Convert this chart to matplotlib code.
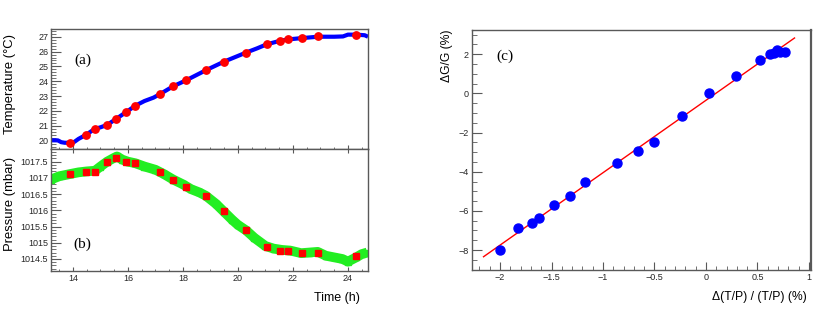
#!/usr/bin/env python3
"""Temperature / pressure time series and gain vs T/P correlation."""
import matplotlib
matplotlib.use("Agg")
import matplotlib.pyplot as plt
import numpy as np
from matplotlib.ticker import AutoMinorLocator, MultipleLocator

plt.rcParams["font.family"] = ["Liberation Sans", "DejaVu Sans"]

# continuous monitoring (a) temperature
temp_t = [13.2, 13.45, 13.57, 13.7, 13.93, 14.05, 14.2, 14.46, 14.79, 15.0, 15.24, 15.58,
          15.92, 16.27, 16.6, 16.93, 17.15, 17.64, 18.12, 18.83, 19.49, 20.28, 20.7,
          21.05, 21.54, 21.83, 22.34, 22.91, 23.5, 23.82, 24.0, 24.31, 24.61, 24.73]
temp_v = [20.03, 20.02, 19.9, 19.86, 19.86, 19.92, 20.12, 20.38, 20.79, 20.9, 21.06, 21.48,
          21.91, 22.36, 22.67, 22.9, 23.12, 23.66, 24.07, 24.74, 25.32, 25.92, 26.22,
          26.49, 26.73, 26.82, 26.91, 27.0, 27.0, 27.02, 27.14, 27.14, 27.1, 27.0]

# continuous monitoring (b) pressure
pres_t = [13.2, 13.5, 13.9, 14.2, 14.5, 14.8, 15.0, 15.24, 15.5, 15.6, 15.8, 16.0, 16.27,
          16.6, 17.0, 17.3, 17.64, 18.0, 18.3, 18.6, 18.83, 19.2, 19.5, 19.8, 20.0, 20.3,
          20.6, 21.0, 21.3, 21.6, 21.9, 22.3, 22.6, 22.9, 23.2, 23.5, 23.8, 24.0, 24.3,
          24.5, 24.7]
pres_v = [1016.95, 1017.05, 1017.12, 1017.17, 1017.2, 1017.22, 1017.35, 1017.5, 1017.62,
          1017.66, 1017.56, 1017.5, 1017.45, 1017.35, 1017.25, 1017.12, 1016.95, 1016.8,
          1016.65, 1016.55, 1016.45, 1016.2, 1015.95, 1015.7, 1015.55, 1015.38, 1015.15,
          1014.9, 1014.82, 1014.78, 1014.76, 1014.68, 1014.7, 1014.72, 1014.6, 1014.55,
          1014.5, 1014.42, 1014.55, 1014.65, 1014.7]

# gain measurement times
run_t = [13.90, 14.46, 14.79, 15.24, 15.58, 15.92, 16.27, 17.15, 17.64, 18.12, 18.83,
         19.49, 20.28, 21.05, 21.54, 21.83, 22.34, 22.91, 24.31]
run_temp = [19.85, 20.38, 20.79, 21.06, 21.48, 21.91, 22.36, 23.12, 23.66, 24.07, 24.74,
            25.32, 25.92, 26.49, 26.73, 26.82, 26.91, 27.02, 27.13]
run_pres = [1017.12, 1017.19, 1017.19, 1017.50, 1017.60, 1017.50, 1017.47, 1017.19,
            1016.95, 1016.73, 1016.45, 1015.98, 1015.38, 1014.86, 1014.74, 1014.76,
            1014.67, 1014.70, 1014.58]

# (c) correlation
dtp = [-2.0, -1.83, -1.69, -1.62, -1.48, -1.32, -1.17, -0.86, -0.66, -0.50, -0.23, 0.03,
       0.29, 0.52, 0.62, 0.66, 0.69, 0.72, 0.77]
dg = [-8.0, -6.89, -6.60, -6.36, -5.68, -5.25, -4.52, -3.56, -2.92, -2.46, -1.15, 0.0,
      0.89, 1.71, 2.0, 2.08, 2.22, 2.13, 2.13]
fit_slope = 3.7
fit_intercept = -0.35
fit_range = [-2.16, 0.86]

FRAME = "0.35"
TICKC = "0.15"


def style(ax, xlen=(3.0, 1.5), ylen=(7.0, 3.5)):
    for s in ax.spines.values():
        s.set_color(FRAME)
        s.set_linewidth(1.0)
    ax.tick_params(which="both", direction="in", colors=FRAME, labelcolor=TICKC,
                   labelsize=6.5, right=False, top=False)
    ax.tick_params(axis="x", which="major", length=xlen[0], pad=2)
    ax.tick_params(axis="x", which="minor", length=xlen[1])
    ax.tick_params(axis="y", which="major", length=ylen[0], pad=2)
    ax.tick_params(axis="y", which="minor", length=ylen[1])


fig = plt.figure(figsize=(8.3, 3.09), dpi=100)
W, H = 830.0, 309.0

ax_a = fig.add_axes([51 / W, 1 - 149 / H, 317 / W, 120 / H])
ax_b = fig.add_axes([51 / W, 1 - 271 / H, 317 / W, 122 / H], sharex=ax_a)
ax_c = fig.add_axes([471.7 / W, 1 - 270 / H, 339 / W, 240 / H])

# (a)
ax_a.plot(temp_t, temp_v, color="blue", lw=3.0, solid_capstyle="butt", zorder=2)
ax_a.plot(run_t, run_temp, "o", color="red", ms=5.3, mec="red", zorder=3)
ax_a.set_xlim(13.2, 24.73)
ax_a.set_ylim(19.44, 27.52)
ax_a.xaxis.set_major_locator(MultipleLocator(2))
ax_a.xaxis.set_minor_locator(AutoMinorLocator(4))
ax_a.yaxis.set_major_locator(MultipleLocator(1))
ax_a.yaxis.set_minor_locator(AutoMinorLocator(5))
style(ax_a)
ax_a.tick_params(axis="x", labelbottom=False)
ax_a.text(0.099, 0.74, "(a)", transform=ax_a.transAxes, family="Liberation Serif",
          fontsize=11, ha="center", va="center")

# (b)
ax_b.plot(pres_t, pres_v, color="#22ee22", lw=7.0, marker="s", ms=4.5, mec="#22ee22",
          solid_capstyle="butt", zorder=2)
ax_b.plot(run_t, run_pres, "s", color="red", ms=5.0, mec="red", zorder=3)
ax_b.set_ylim(1014.13, 1017.89)
ax_b.yaxis.set_major_locator(MultipleLocator(0.5))
ax_b.yaxis.set_minor_locator(AutoMinorLocator(5))
ax_b.yaxis.set_major_formatter(plt.FuncFormatter(lambda v, p: f"{v:g}"))
style(ax_b)
ax_b.tick_params(axis="x", top=True)
ax_b.text(0.099, 0.22, "(b)", transform=ax_b.transAxes, family="Liberation Serif",
          fontsize=11, ha="center", va="center")

# (c)
xf = np.array(fit_range)
ax_c.plot(xf, fit_slope * xf + fit_intercept, color="red", lw=1.0, zorder=2)
ax_c.plot(dtp, dg, "o", color="blue", ms=6.5, mec="blue", zorder=3)
ax_c.set_xlim(-2.275, 1.017)
ax_c.set_ylim(-9.02, 3.24)
ax_c.xaxis.set_major_locator(MultipleLocator(0.5))
ax_c.xaxis.set_minor_locator(AutoMinorLocator(5))
ax_c.yaxis.set_major_locator(MultipleLocator(2))
ax_c.yaxis.set_minor_locator(AutoMinorLocator(4))
ax_c.xaxis.set_major_formatter(plt.FuncFormatter(lambda v, p: f"{v:g}".replace("-", "\u2212")))
style(ax_c, xlen=(6.0, 3.0), ylen=(7.0, 3.5))
ax_c.spines["right"].set_linewidth(1.6)
ax_c.text(0.098, 0.89, "(c)", transform=ax_c.transAxes, family="Liberation Serif",
          fontsize=11, ha="center", va="center")

# axis titles
fig.text(10 / W, 1 - 84 / H, "Temperature (°C)", rotation=90, ha="center", va="center",
         fontsize=9.4)
fig.text(10 / W, 1 - 204 / H, "Pressure (mbar)", rotation=90, ha="center", va="center",
         fontsize=9.4)
fig.text(360 / W, 1 - 298 / H, "Time (h)", ha="right", va="center", fontsize=9)
fig.text(447 / W, 1 - 30 / H, "ΔG/G (%)", rotation=90, ha="center", va="top", fontsize=8.7)
fig.text(807 / W, 1 - 297 / H, "Δ(T/P) / (T/P) (%)", ha="right", va="center", fontsize=8.7)

fig.savefig("out.png", dpi=100, facecolor="white")
